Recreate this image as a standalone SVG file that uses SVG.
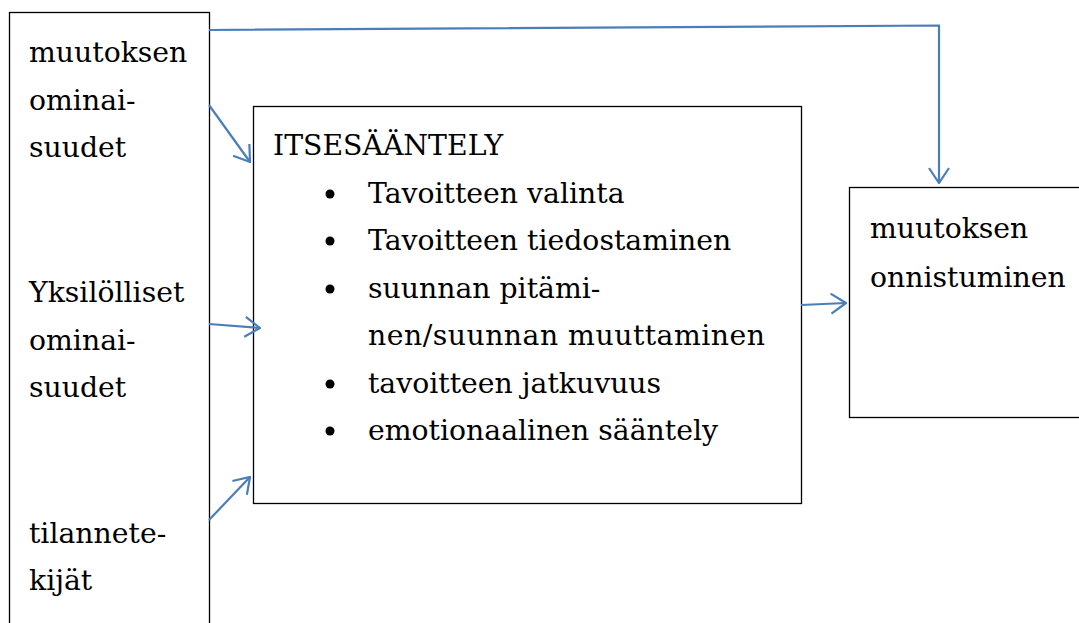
<svg xmlns="http://www.w3.org/2000/svg" width="1079" height="623" viewBox="0 0 1079 623">
<style>
.box{fill:#fff;stroke:#000;stroke-width:1.3}
.t{font-family:"DejaVu Serif","Liberation Serif",serif;font-size:28.3px;fill:#000}
.c{fill:none;stroke:#4a7ebb;stroke-width:2.2}
</style>
<defs>
<marker id="ah" viewBox="0 0 17 22" refX="16" refY="11" markerWidth="17" markerHeight="22" markerUnits="userSpaceOnUse" orient="auto">
<path d="M1,1 L16,11 L1,21" fill="none" stroke="#4a7ebb" stroke-width="2.2"/>
</marker>
</defs>
<rect width="1079" height="623" fill="#fff"/>
<g id="left">
<rect class="box" x="9.5" y="12.5" width="200" height="620"/>
<text class="t" x="29" y="62">muutoksen</text>
<text class="t" x="29" y="110">ominai-</text>
<text class="t" x="29" y="157">suudet</text>
<text class="t" x="29" y="302">Yksilölliset</text>
<text class="t" x="29" y="350">ominai-</text>
<text class="t" x="29" y="397">suudet</text>
<text class="t" x="29" y="543">tilannete-</text>
<text class="t" x="29" y="590">kijät</text>
</g>
<g id="itsesaantely">
<rect class="box" x="253.5" y="106.5" width="548" height="397"/>
<text class="t" x="273" y="155">ITSESÄÄNTELY</text>
<g fill="#000">
<circle cx="330" cy="194" r="4.5"/>
<circle cx="330" cy="241" r="4.5"/>
<circle cx="330" cy="289" r="4.5"/>
<circle cx="330" cy="384" r="4.5"/>
<circle cx="330" cy="431" r="4.5"/>
</g>
<text class="t" x="368" y="203">Tavoitteen valinta</text>
<text class="t" x="368" y="250">Tavoitteen tiedostaminen</text>
<text class="t" x="368" y="298">suunnan pitämi-</text>
<text class="t" x="368" y="345" textLength="397" lengthAdjust="spacing">nen/suunnan muuttaminen</text>
<text class="t" x="368" y="393">tavoitteen jatkuvuus</text>
<text class="t" x="368" y="440">emotionaalinen sääntely</text>
</g>
<g id="onnistuminen">
<rect class="box" x="849.5" y="187.5" width="240" height="230"/>
<text class="t" x="870" y="238">muutoksen</text>
<text class="t" x="870" y="287">onnistuminen</text>
</g>
<g id="connectors">
<polyline class="c" points="209,30 939,25.5 939,183" marker-end="url(#ah)"/>
<line class="c" x1="209" y1="105" x2="250" y2="162" marker-end="url(#ah)"/>
<line class="c" x1="209" y1="324" x2="260" y2="328" marker-end="url(#ah)"/>
<line class="c" x1="209" y1="520" x2="250" y2="477" marker-end="url(#ah)"/>
<line class="c" x1="801" y1="305" x2="846" y2="303" marker-end="url(#ah)"/>
</g>
</svg>
